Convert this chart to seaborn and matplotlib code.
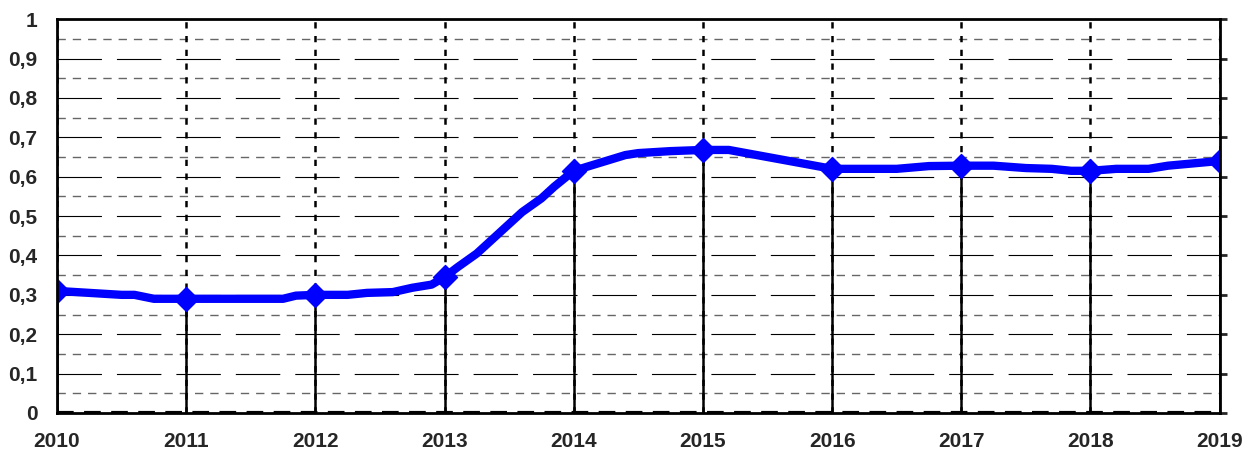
import numpy as np
import matplotlib
matplotlib.use("Agg")
import matplotlib.pyplot as plt
import matplotlib.ticker as mticker
import pandas as pd
import seaborn as sns

# yearly points (marked) and intermediate points of the curve
YEARS = [2010, 2011, 2012, 2013, 2014, 2015, 2016, 2017, 2018, 2019]
YEAR_VALUES = [0.31, 0.29, 0.30, 0.345, 0.615, 0.668, 0.62, 0.628, 0.615, 0.64]

CURVE_X = [2010, 2010.25, 2010.5, 2010.6, 2010.75, 2011, 2011.25, 2011.5, 2011.75, 2011.85,
           2012, 2012.25, 2012.4, 2012.6, 2012.75, 2012.9, 2013,
           2013.1, 2013.25, 2013.4, 2013.6, 2013.75, 2013.85, 2014,
           2014.2, 2014.4, 2014.5, 2014.75, 2015, 2015.2, 2015.5, 2015.75, 2016,
           2016.25, 2016.5, 2016.75, 2017, 2017.25, 2017.5, 2017.7, 2017.85, 2018,
           2018.2, 2018.45, 2018.6, 2019]
CURVE_Y = [0.31, 0.305, 0.30, 0.30, 0.29, 0.29, 0.29, 0.29, 0.29, 0.298,
           0.30, 0.30, 0.305, 0.307, 0.318, 0.326, 0.345,
           0.37, 0.405, 0.45, 0.51, 0.545, 0.575, 0.615,
           0.635, 0.655, 0.66, 0.665, 0.668, 0.668, 0.65, 0.635, 0.62,
           0.62, 0.62, 0.627, 0.628, 0.628, 0.622, 0.62, 0.615, 0.615,
           0.62, 0.62, 0.628, 0.64]

sns.set_style("white")
plt.rcParams["font.family"] = ["Liberation Sans", "DejaVu Sans"]
plt.rcParams["font.weight"] = "bold"

fig, ax = plt.subplots(figsize=(12.6, 4.57), dpi=100)
fig.subplots_adjust(left=0.0452, right=0.968, top=0.958, bottom=0.0963)

# horizontal grid
for v in np.arange(0.1, 1.0, 0.1):
    ax.axhline(v, color="black", lw=0.8, dashes=(40, 13.5), zorder=1)
for v in np.arange(0.05, 1.0, 0.1):
    ax.axhline(v, color="#666666", lw=1.0, dashes=(6, 5), zorder=1)
# vertical dotted grid at years
for yr in YEARS:
    ax.axvline(yr, color="black", lw=1.8, dashes=(2.5, 3), zorder=1)
ax.axhline(0, color="black", lw=3, dashes=(4, 2.5), zorder=2)

# drop lines from zero to the yearly markers
ax.vlines(YEARS, 0, YEAR_VALUES, color="black", lw=1.8, zorder=2)

curve = pd.DataFrame({"x": CURVE_X, "y": CURVE_Y})
sns.lineplot(data=curve, x="x", y="y", ax=ax, color="#0000FF", lw=6, zorder=3,
             solid_joinstyle="round")
pts = pd.DataFrame({"x": YEARS, "y": YEAR_VALUES})
sns.scatterplot(data=pts, x="x", y="y", ax=ax, color="#0000FF", marker="D", s=150,
                edgecolor="#0000FF", zorder=4)

ax.set_xlim(2010, 2019)
ax.set_ylim(0, 1)
ax.set_xticks(YEARS)
ax.set_yticks(np.arange(0, 1.01, 0.1))
ax.yaxis.set_major_formatter(mticker.FuncFormatter(
    lambda v, p: "0" if abs(v) < 1e-9 else ("1" if abs(v - 1) < 1e-9 else f"{v:.1f}".replace(".", ","))))
ax.set_xlabel("")
ax.set_ylabel("")

for s in ax.spines.values():
    s.set_linewidth(2)
    s.set_color("black")
    s.set_zorder(5)

ax.tick_params(axis="x", direction="out", length=5, width=2, pad=9, labelsize=15)
ax.tick_params(axis="y", left=False, right=True, direction="out", length=5, width=2,
               pad=9, labelsize=15)
for lab in ax.get_xticklabels() + ax.get_yticklabels():
    lab.set_fontweight("bold")

fig.savefig("out.png", dpi=100)
